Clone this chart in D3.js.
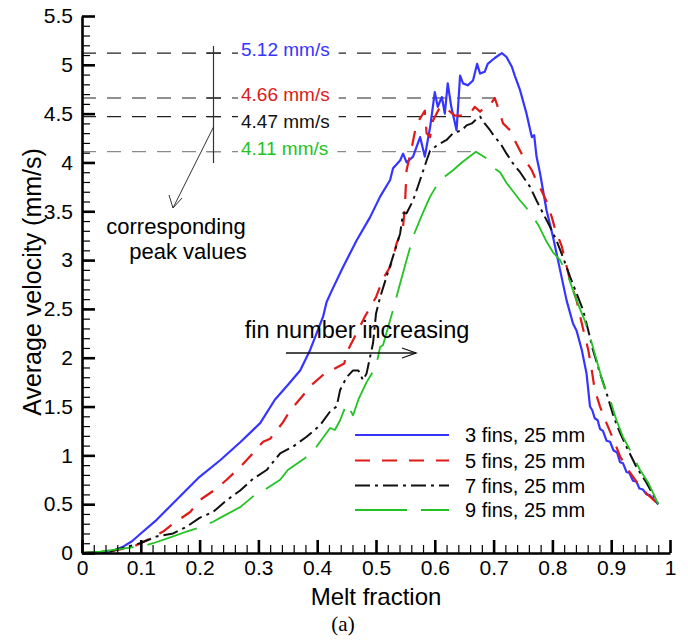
<!DOCTYPE html>
<html>
<head>
<meta charset="utf-8">
<script src="https://cdn.jsdelivr.net/npm/d3@7"></script>
<style>
  html, body { margin: 0; padding: 0; background: #fff; }
  svg text { font-family: "Liberation Sans", Arial, sans-serif; fill: #000; }
</style>
</head>
<body>
<div id="chart"></div>
<script>
// Melt fraction vs. average velocity
const fins3 = [[0,0],[0.03,0.005],[0.048,0.013],[0.07,0.065],[0.085,0.12],[0.1,0.2],[0.127,0.34],[0.155,0.51],[0.2,0.78],[0.235,0.95],[0.27,1.14],[0.303,1.33],[0.328,1.57],[0.35,1.72],[0.371,1.87],[0.388,2.08],[0.41,2.42],[0.416,2.57],[0.425,2.69],[0.444,2.93],[0.467,3.2],[0.49,3.44],[0.507,3.65],[0.524,3.82],[0.529,3.94],[0.541,4.02],[0.546,4.09],[0.552,4.0],[0.563,4.06],[0.575,4.26],[0.583,4.06],[0.592,4.36],[0.6,4.72],[0.605,4.57],[0.612,4.67],[0.617,4.5],[0.622,4.81],[0.628,4.57],[0.637,4.33],[0.643,4.89],[0.648,4.81],[0.656,4.79],[0.665,4.84],[0.672,5.01],[0.677,4.91],[0.685,4.93],[0.69,5.01],[0.702,5.07],[0.714,5.12],[0.722,5.08],[0.731,4.98],[0.736,4.89],[0.745,4.74],[0.756,4.5],[0.765,4.26],[0.769,4.28],[0.773,4.06],[0.779,3.89],[0.79,3.51],[0.801,3.24],[0.813,2.9],[0.824,2.59],[0.835,2.35],[0.841,2.28],[0.85,2.08],[0.858,1.84],[0.864,1.5],[0.868,1.46],[0.872,1.38],[0.877,1.36],[0.881,1.27],[0.886,1.25],[0.892,1.15],[0.898,1.14],[0.904,1.05],[0.91,1.03],[0.915,0.93],[0.92,0.92],[0.926,0.83],[0.931,0.82],[0.937,0.74],[0.943,0.73],[0.948,0.66],[0.954,0.65],[0.96,0.6],[0.966,0.59],[0.98,0.5]];
const fins5 = [[0,0],[0.05,0.02],[0.087,0.065],[0.11,0.13],[0.138,0.22],[0.155,0.3],[0.184,0.42],[0.2,0.54],[0.229,0.66],[0.246,0.75],[0.269,0.88],[0.286,0.99],[0.308,1.14],[0.32,1.17],[0.342,1.34],[0.354,1.46],[0.374,1.6],[0.39,1.72],[0.413,1.84],[0.43,1.89],[0.446,1.94],[0.45,2.05],[0.481,2.42],[0.5,2.62],[0.512,2.81],[0.524,2.93],[0.529,3.02],[0.535,3.17],[0.546,3.34],[0.549,3.54],[0.552,3.92],[0.561,4.16],[0.569,4.4],[0.575,4.45],[0.583,4.53],[0.586,4.3],[0.592,4.26],[0.597,4.43],[0.609,4.57],[0.617,4.57],[0.626,4.52],[0.634,4.48],[0.643,4.48],[0.66,4.5],[0.668,4.57],[0.677,4.52],[0.685,4.57],[0.694,4.59],[0.702,4.66],[0.711,4.5],[0.716,4.4],[0.728,4.33],[0.733,4.26],[0.745,4.12],[0.75,4.06],[0.765,3.92],[0.77,3.85],[0.784,3.68],[0.79,3.6],[0.799,3.44],[0.804,3.33],[0.816,3.14],[0.83,2.79],[0.841,2.59],[0.852,2.3],[0.861,2.08],[0.867,1.87],[0.872,1.67],[0.881,1.5],[0.892,1.33],[0.904,1.16],[0.915,0.99],[0.929,0.85],[0.943,0.73],[0.96,0.61],[0.98,0.5]];
const fins7 = [[0,0],[0.05,0.02],[0.099,0.1],[0.127,0.17],[0.155,0.2],[0.178,0.27],[0.2,0.36],[0.223,0.42],[0.246,0.54],[0.269,0.64],[0.291,0.76],[0.314,0.85],[0.337,1.02],[0.359,1.09],[0.382,1.19],[0.405,1.31],[0.422,1.45],[0.433,1.5],[0.439,1.67],[0.45,1.8],[0.461,1.87],[0.47,1.87],[0.478,1.77],[0.484,1.84],[0.49,2.01],[0.495,2.15],[0.5,2.45],[0.507,2.62],[0.518,2.83],[0.527,3.0],[0.541,3.27],[0.546,3.48],[0.552,3.48],[0.563,3.61],[0.575,3.82],[0.586,4.02],[0.592,4.12],[0.605,4.18],[0.62,4.23],[0.631,4.3],[0.646,4.33],[0.654,4.38],[0.663,4.4],[0.672,4.45],[0.677,4.47],[0.682,4.42],[0.694,4.33],[0.702,4.26],[0.711,4.2],[0.722,4.09],[0.733,3.99],[0.745,3.9],[0.762,3.75],[0.773,3.61],[0.784,3.48],[0.796,3.34],[0.807,3.2],[0.818,3.03],[0.83,2.83],[0.841,2.66],[0.852,2.49],[0.861,2.28],[0.869,2.08],[0.881,1.84],[0.892,1.64],[0.904,1.4],[0.915,1.23],[0.929,1.05],[0.943,0.88],[0.96,0.72],[0.98,0.5]];
const fins9 = [[0,0],[0.031,0.013],[0.076,0.05],[0.11,0.08],[0.121,0.1],[0.155,0.17],[0.178,0.22],[0.2,0.26],[0.223,0.32],[0.238,0.37],[0.269,0.47],[0.291,0.58],[0.314,0.66],[0.337,0.75],[0.35,0.85],[0.379,0.97],[0.399,1.09],[0.422,1.28],[0.43,1.26],[0.439,1.36],[0.45,1.53],[0.461,1.41],[0.47,1.57],[0.484,1.75],[0.5,1.91],[0.507,2.11],[0.512,2.13],[0.529,2.49],[0.541,2.76],[0.552,3.0],[0.563,3.24],[0.578,3.46],[0.592,3.65],[0.609,3.82],[0.631,3.92],[0.646,4.0],[0.67,4.11],[0.688,4.04],[0.699,3.95],[0.711,3.9],[0.722,3.79],[0.745,3.61],[0.762,3.49],[0.776,3.36],[0.79,3.19],[0.801,3.08],[0.813,3.0],[0.827,2.83],[0.841,2.59],[0.855,2.38],[0.864,2.21],[0.875,1.98],[0.886,1.74],[0.898,1.57],[0.909,1.36],[0.92,1.19],[0.935,1.02],[0.949,0.85],[0.963,0.72],[0.98,0.5]];

const seriesNames = ['3 fins, 25 mm', '5 fins, 25 mm', '7 fins, 25 mm', '9 fins, 25 mm'];
const seriesData = [fins3, fins5, fins7, fins9];
const seriesColors = ['#3535ff', '#e01919', '#111111', '#22c322'];
const seriesDash = ['none', '15,12', '15,5,3,5', '52,14'];
const seriesWidth = [2.2, 2.2, 2, 1.8];

// peak annotations
const peakValues = [5.12, 4.66, 4.47, 4.11];
const peakX = [0.714, 0.702, 0.677, 0.67];
const peakLabels = ['5.12 mm/s', '4.66 mm/s', '4.47 mm/s', '4.11 mm/s'];

const xMajor = [0, 0.1, 0.2, 0.3, 0.4, 0.5, 0.6, 0.7, 0.8, 0.9, 1];
const yMajor = [0, 0.5, 1, 1.5, 2, 2.5, 3, 3.5, 4, 4.5, 5, 5.5];

const W = 688, H = 642;
const svg = d3.select('#chart').append('svg').attr('width', W).attr('height', H);

const x = d3.scaleLinear().domain([0, 1]).range([82, 670]);
const y = d3.scaleLinear().domain([0, 5.5]).range([553, 16]);

// 注釈の破線（ピーク値）
const peakColor = ['#222', '#222', '#222', '#8a8a8a'];
const labelDy = [-4, -4, 5, -3];
peakValues.forEach((v, i) => {
  svg.append('line')
    .attr('x1', x(0)).attr('x2', x(peakX[i]))
    .attr('y1', y(v)).attr('y2', y(v))
    .attr('stroke', peakColor[i]).attr('stroke-width', 1.2)
    .attr('stroke-dasharray', '14,11');
  // small crossing tick on the vertical bar
  svg.append('line')
    .attr('x1', 206).attr('x2', 221)
    .attr('y1', y(v)).attr('y2', y(v))
    .attr('stroke', peakColor[i]).attr('stroke-width', 1.2);
});

// vertical bar and arrow
svg.append('line').attr('x1', 213.5).attr('x2', 213.5).attr('y1', 46).attr('y2', 163)
  .attr('stroke', '#333').attr('stroke-width', 1.2);
svg.append('line').attr('x1', 213.5).attr('y1', 127).attr('x2', 173).attr('y2', 208)
  .attr('stroke', '#333').attr('stroke-width', 1);
svg.append('path').attr('d', 'M169,195 L173,208 L182,198')
  .attr('fill', 'none').attr('stroke', '#333').attr('stroke-width', 1);

// curves
const line = d3.line().x(d => x(d[0])).y(d => y(d[1]));
seriesData.forEach((s, i) => {
  svg.append('path').datum(s)
    .attr('d', line)
    .attr('fill', 'none')
    .attr('stroke', seriesColors[i])
    .attr('stroke-width', seriesWidth[i])
    .attr('stroke-dasharray', seriesDash[i])
    .attr('stroke-linejoin', 'round');
});

// peak labels with white background
const labelColors = ['#3535ff', '#e01919', '#111', '#22c322'];
peakValues.forEach((v, i) => {
  const g = svg.append('g');
  const t = g.append('text')
    .attr('x', 241).attr('y', y(v) + labelDy[i])
    .attr('dy', '0.35em')
    .style('font-size', '19px')
    .style('fill', labelColors[i])
    .text(peakLabels[i]);
  const bb = t.node().getBBox();
  g.insert('rect', 'text')
    .attr('x', bb.x - 3).attr('y', bb.y + 2)
    .attr('width', bb.width + 12).attr('height', bb.height - 4)
    .attr('fill', '#fff');
});

// text annotations
svg.append('text').attr('x', 176).attr('y', 234).attr('text-anchor', 'middle')
  .style('font-size', '22px').text('corresponding');
svg.append('text').attr('x', 188).attr('y', 259).attr('text-anchor', 'middle')
  .style('font-size', '22px').text('peak values');
svg.append('text').attr('x', 357).attr('y', 338).attr('text-anchor', 'middle')
  .style('font-size', '23.5px').text('fin number increasing');
svg.append('line').attr('x1', 286).attr('x2', 416).attr('y1', 353).attr('y2', 353)
  .attr('stroke', '#111').attr('stroke-width', 1.3);
svg.append('path').attr('d', 'M402,348 L416,353 L402,358')
  .attr('fill', 'none').attr('stroke', '#111').attr('stroke-width', 1.3);

// axes (ticks point inward)
const xAxis = svg.append('g').attr('transform', `translate(0,${y(0)})`)
  .call(d3.axisBottom(x).tickValues(xMajor).tickFormat(d3.format('')).tickSize(-13).tickSizeOuter(0).tickPadding(7));
const xMinor = svg.append('g').attr('transform', `translate(0,${y(0)})`)
  .call(d3.axisBottom(x).tickValues(d3.range(0, 51).map(i => i / 50).filter(v => Math.round(v * 50) % 5 !== 0))
    .tickFormat('').tickSize(-8).tickSizeOuter(0));
const yAxis = svg.append('g').attr('transform', `translate(${x(0)},0)`)
  .call(d3.axisLeft(y).tickValues(yMajor).tickFormat(d3.format('')).tickSize(-13).tickSizeOuter(0).tickPadding(9));
const yMinor = svg.append('g').attr('transform', `translate(${x(0)},0)`)
  .call(d3.axisLeft(y).tickValues(d3.range(0, 56).map(i => i / 10).filter(v => Math.round(v * 10) % 5 !== 0))
    .tickFormat('').tickSize(-8).tickSizeOuter(0));

[xAxis, yAxis].forEach(a => {
  a.select('.domain').attr('stroke', '#000').attr('stroke-width', 2.6);
  a.selectAll('.tick line').attr('stroke', '#000').attr('stroke-width', 2.6);
  a.selectAll('.tick text').style('font-size', '21px').attr('fill', '#000')
    .style('font-family', '"Liberation Sans", Arial, sans-serif');
});
[xMinor, yMinor].forEach(a => {
  a.select('.domain').remove();
  a.selectAll('.tick line').attr('stroke', '#000').attr('stroke-width', 1.2);
});

// axis titles
svg.append('text').attr('x', 376).attr('y', 605).attr('text-anchor', 'middle')
  .style('font-size', '24px').text('Melt fraction');
svg.append('text').attr('transform', 'translate(41,282) rotate(-90)').attr('text-anchor', 'middle')
  .style('font-size', '25px').text('Average velocity (mm/s)');
svg.append('text').attr('x', 343).attr('y', 631).attr('text-anchor', 'middle')
  .style('font-family', '"Liberation Serif", "Times New Roman", serif')
  .style('font-size', '21px').text('(a)');

// legend
const legendY = [435, 460.5, 485.5, 510];
seriesNames.forEach((name, i) => {
  svg.append('line').attr('x1', 355).attr('x2', 449)
    .attr('y1', legendY[i]).attr('y2', legendY[i])
    .attr('stroke', seriesColors[i]).attr('stroke-width', seriesWidth[i])
    .attr('stroke-dasharray', seriesDash[i]);
  svg.append('text').attr('x', 465).attr('y', legendY[i]).attr('dy', '0.35em')
    .style('font-size', '20px').text(name);
});
</script>
</body>
</html>
